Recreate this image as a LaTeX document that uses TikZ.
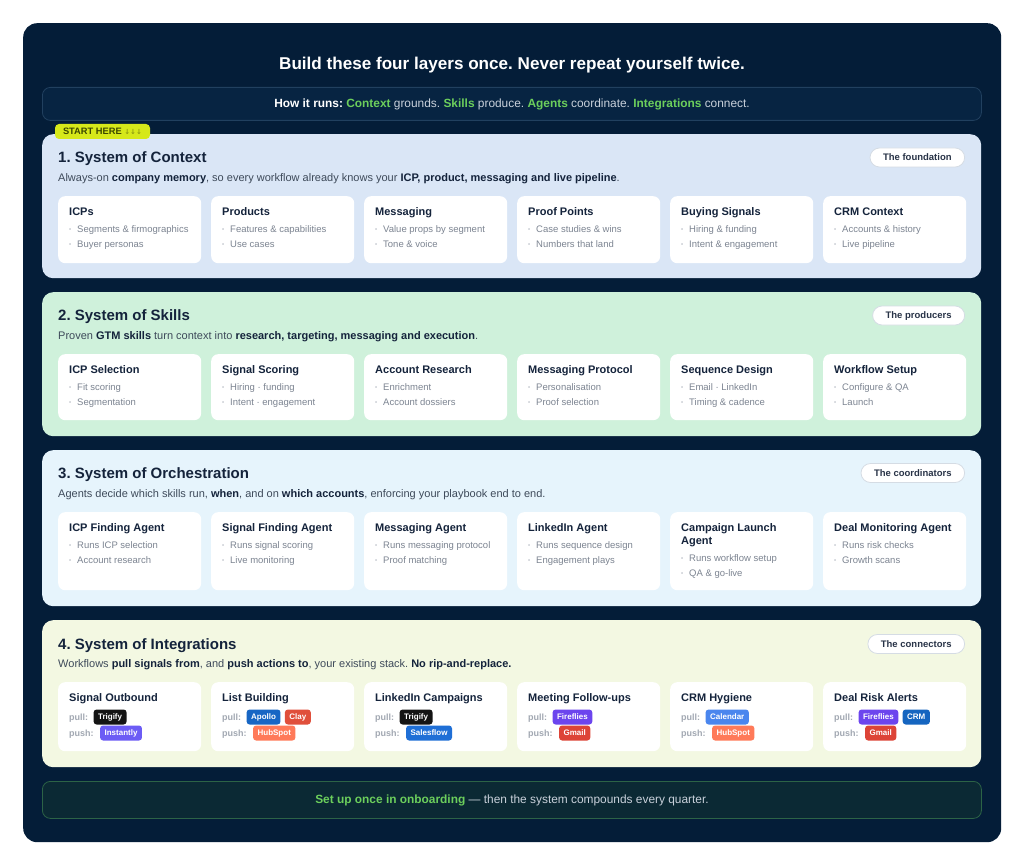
\documentclass[tikz,border=0pt]{standalone}
\usepackage{fontspec}
\setmainfont{Liberation Sans}
\newfontfamily\symfont{DejaVu Sans}
\usetikzlibrary{positioning,calc}
\definecolor{navy}{HTML}{041D38}
\definecolor{navyline}{HTML}{21405F}
\definecolor{navybox}{HTML}{072442}
\definecolor{accent}{HTML}{6CCF5C}
\definecolor{softw}{HTML}{C9D1DB}
\definecolor{sA}{HTML}{DAE6F6}
\definecolor{sB}{HTML}{CFF1DB}
\definecolor{sC}{HTML}{E6F4FC}
\definecolor{sD}{HTML}{F3F8E2}
\definecolor{ink}{HTML}{14233B}
\definecolor{subink}{HTML}{3E4A5A}
\definecolor{bul}{HTML}{7C8491}
\definecolor{dotc}{HTML}{B3B9C2}
\definecolor{pillink}{HTML}{283347}
\definecolor{pillline}{HTML}{D5DCE4}
\definecolor{lime}{HTML}{D6E81A}
\definecolor{limeink}{HTML}{3B4700}
\definecolor{limearr}{HTML}{8E9C10}
\definecolor{footfill}{HTML}{0B2934}
\definecolor{footline}{HTML}{2C6346}
\definecolor{lblc}{HTML}{A2A8B2}
\definecolor{cTrig}{HTML}{141414}
\definecolor{cInst}{HTML}{6C5CF5}
\definecolor{cApollo}{HTML}{1766C4}
\definecolor{cClay}{HTML}{E04F3B}
\definecolor{cHub}{HTML}{FF7A59}
\definecolor{cSales}{HTML}{1F6FD6}
\definecolor{cFire}{HTML}{6C45EE}
\definecolor{cGmail}{HTML}{DD4437}
\definecolor{cCal}{HTML}{4A86EE}
\definecolor{cCrm}{HTML}{1565C0}
\frenchspacing
\newcommand{\bk}[1]{{\bfseries\color{ink}#1}}
\newcommand{\gr}[1]{{\bfseries\color{accent}#1}}
\newcommand{\bdot}{\makebox[8pt][l]{\raisebox{0.9pt}{\color{dotc}\fontsize{6}{6}\selectfont\textbullet}}}
\newcommand{\mycard}[7]{%
  \node[card, minimum height=#4] (#1) at (#2,#3) {};
  \node[ctitle] (#1-t) at ($(#1.north west)+(11,16)$) {#5};
  \node[cbul] (#1-a) at ($(#1.north west)+(11,33)$) {\bdot#6};
  \node[cbul] (#1-b) at ($(#1.north west)+(11,48)$) {\bdot#7};
}
\newcommand{\intcard}[3]{%
  \node[card, minimum height=69pt] (#1) at (#2,682) {};
  \node[ctitle] (#1-t) at ($(#1.north west)+(11,16)$) {#3};
  \node[lbl] (#1-pl) at ($(#1.north west)+(11,35)$) {pull:};
  \node[lbl] (#1-ps) at ($(#1.north west)+(11,51)$) {push:};
}
\begin{document}
\begin{tikzpicture}[x=1pt,y=-1pt,
  box/.style={rectangle, inner sep=0pt, anchor=north west},
  card/.style={box, fill=white, rounded corners=7pt, minimum width=143pt},
  section/.style={box, rounded corners=11pt, minimum width=939pt},
  ctitle/.style={anchor=west, inner sep=0pt, font=\fontsize{11}{13}\selectfont\bfseries, text=ink, text height=7.9pt, text depth=0pt},
  cbul/.style={anchor=west, inner sep=0pt, font=\fontsize{9.5}{11}\selectfont, text=bul, text height=6.8pt, text depth=0pt},
  stitle/.style={anchor=west, inner sep=0pt, font=\fontsize{15}{18}\selectfont\bfseries, text=ink, text height=10.7pt, text depth=0pt},
  ssub/.style={anchor=west, inner sep=0pt, font=\fontsize{11}{13}\selectfont, text=subink, text height=7.9pt, text depth=0pt},
  pill/.style={anchor=east, rectangle, rounded corners=9.5pt, fill=white, draw=pillline, line width=0.8pt, font=\fontsize{9.5}{11}\selectfont\bfseries, text=pillink, inner xsep=13pt, inner ysep=0pt, minimum height=19pt, text height=6.8pt, text depth=0pt},
  badge/.style={rectangle, rounded corners=3pt, font=\fontsize{8}{9}\selectfont\bfseries, text=white, inner xsep=4.5pt, inner ysep=0pt, minimum height=15pt, text height=5.8pt, text depth=1.6pt},
  lbl/.style={anchor=west, inner sep=0pt, font=\fontsize{9}{10}\selectfont\bfseries, text=lblc, text height=6.5pt, text depth=0pt}
]
\useasboundingbox (0,0) rectangle (1024,866);
\fill[white] (0,0) rectangle (1024,866);
\node[box, fill=navy, rounded corners=14pt, minimum width=978pt, minimum height=819pt] (panel) at (23,23) {};
\node[anchor=center, inner sep=0pt, font=\fontsize{17.1}{20}\selectfont\bfseries, text=white, text height=12.2pt, text depth=0pt] (title) at (512,63) {Build these four layers once. Never repeat yourself twice.};
\node[box, fill=navybox, draw=navyline, line width=0.8pt, rounded corners=8pt, minimum width=939pt, minimum height=33pt] (runs) at (42,87) {};
\node[anchor=center, inner sep=0pt, font=\fontsize{11.9}{14}\selectfont, text=softw, text height=8.5pt, text depth=0pt] (runs-t) at (512,103.5) {{\bfseries\color{white}How it runs:} \gr{Context} grounds. \gr{Skills} produce. \gr{Agents} coordinate. \gr{Integrations} connect.};

% Section 1
\node[section, fill=sA, minimum height=144pt] (s1) at (42,134) {};
\node[stitle] (s1-t) at (58,157) {1. System of Context};
\node[ssub] (s1-s) at (58,178) {Always-on \bk{company memory}, so every workflow already knows your \bk{ICP, product, messaging and live pipeline}.};
\node[pill] (s1-p) at (965,157.5) {The foundation};
\mycard{a1}{58}{196}{67pt}{ICPs}{Segments \& firmographics}{Buyer personas}
\mycard{a2}{211}{196}{67pt}{Products}{Features \& capabilities}{Use cases}
\mycard{a3}{364}{196}{67pt}{Messaging}{Value props by segment}{Tone \& voice}
\mycard{a4}{517}{196}{67pt}{Proof Points}{Case studies \& wins}{Numbers that land}
\mycard{a5}{670}{196}{67pt}{Buying Signals}{Hiring \& funding}{Intent \& engagement}
\mycard{a6}{823}{196}{67pt}{CRM Context}{Accounts \& history}{Live pipeline}
\node[box, anchor=center, fill=lime, rounded corners=4pt, minimum width=95pt, minimum height=15pt, font=\fontsize{9.3}{10}\selectfont\bfseries, text=limeink, text height=6.7pt, text depth=0pt] (start) at (102.5,131.5) {START HERE {\symfont\fontsize{7}{7}\selectfont\color{limearr}↓↓↓}};

% Section 2
\node[section, fill=sB, minimum height=144pt] (s2) at (42,292) {};
\node[stitle] (s2-t) at (58,315) {2. System of Skills};
\node[ssub] (s2-s) at (58,336) {Proven \bk{GTM skills} turn context into \bk{research, targeting, messaging and execution}.};
\node[pill] (s2-p) at (965,315.5) {The producers};
\mycard{b1}{58}{354}{66pt}{ICP Selection}{Fit scoring}{Segmentation}
\mycard{b2}{211}{354}{66pt}{Signal Scoring}{Hiring · funding}{Intent · engagement}
\mycard{b3}{364}{354}{66pt}{Account Research}{Enrichment}{Account dossiers}
\mycard{b4}{517}{354}{66pt}{Messaging Protocol}{Personalisation}{Proof selection}
\mycard{b5}{670}{354}{66pt}{Sequence Design}{Email · LinkedIn}{Timing \& cadence}
\mycard{b6}{823}{354}{66pt}{Workflow Setup}{Configure \& QA}{Launch}

% Section 3
\node[section, fill=sC, minimum height=156pt] (s3) at (42,450) {};
\node[stitle] (s3-t) at (58,473) {3. System of Orchestration};
\node[ssub] (s3-s) at (58,494) {Agents decide which skills run, \bk{when}, and on \bk{which accounts}, enforcing your playbook end to end.};
\node[pill] (s3-p) at (965,473) {The coordinators};
\mycard{c1}{58}{512}{78pt}{ICP Finding Agent}{Runs ICP selection}{Account research}
\mycard{c2}{211}{512}{78pt}{Signal Finding Agent}{Runs signal scoring}{Live monitoring}
\mycard{c3}{364}{512}{78pt}{Messaging Agent}{Runs messaging protocol}{Proof matching}
\mycard{c4}{517}{512}{78pt}{LinkedIn Agent}{Runs sequence design}{Engagement plays}
\node[card, minimum height=78pt] (c5) at (670,512) {};
\node[ctitle] (c5-t) at ($(c5.north west)+(11,16)$) {Campaign Launch};
\node[ctitle] (c5-t2) at ($(c5.north west)+(11,28.5)$) {Agent};
\node[cbul] (c5-a) at ($(c5.north west)+(11,46)$) {\bdot Runs workflow setup};
\node[cbul] (c5-b) at ($(c5.north west)+(11,61)$) {\bdot QA \& go-live};
\mycard{c6}{823}{512}{78pt}{Deal Monitoring Agent}{Runs risk checks}{Growth scans}

% Section 4
\node[section, fill=sD, minimum height=147pt] (s4) at (42,620) {};
\node[stitle] (s4-t) at (58,644) {4. System of Integrations};
\node[ssub] (s4-s) at (58,664) {Workflows \bk{pull signals from}, and \bk{push actions to}, your existing stack. \bk{No rip-and-replace.}};
\node[pill] (s4-p) at (965,644) {The connectors};
\intcard{d1}{58}{Signal Outbound}
\node[badge, fill=cTrig, right=5pt of d1-pl] (d1-x1) {Trigify};
\node[badge, fill=cInst, right=6pt of d1-ps] (d1-y1) {Instantly};
\intcard{d2}{211}{List Building}
\node[badge, fill=cApollo, right=5pt of d2-pl] (d2-x1) {Apollo};
\node[badge, fill=cClay, right=4pt of d2-x1] (d2-x2) {Clay};
\node[badge, fill=cHub, right=6pt of d2-ps] (d2-y1) {HubSpot};
\intcard{d3}{364}{LinkedIn Campaigns}
\node[badge, fill=cTrig, right=5pt of d3-pl] (d3-x1) {Trigify};
\node[badge, fill=cSales, right=6pt of d3-ps] (d3-y1) {Salesflow};
\intcard{d4}{517}{Meeting Follow-ups}
\node[badge, fill=cFire, right=5pt of d4-pl] (d4-x1) {Fireflies};
\node[badge, fill=cGmail, right=6pt of d4-ps] (d4-y1) {Gmail};
\intcard{d5}{670}{CRM Hygiene}
\node[badge, fill=cCal, right=5pt of d5-pl] (d5-x1) {Calendar};
\node[badge, fill=cHub, right=6pt of d5-ps] (d5-y1) {HubSpot};
\intcard{d6}{823}{Deal Risk Alerts}
\node[badge, fill=cFire, right=5pt of d6-pl] (d6-x1) {Fireflies};
\node[badge, fill=cCrm, right=4pt of d6-x1] (d6-x2) {CRM};
\node[badge, fill=cGmail, right=6pt of d6-ps] (d6-y1) {Gmail};

% Footer
\node[box, fill=footfill, draw=footline, line width=0.8pt, rounded corners=8pt, minimum width=939pt, minimum height=37pt] (foot) at (42,781) {};
\node[anchor=center, inner sep=0pt, font=\fontsize{11.9}{14}\selectfont, text=softw, text height=8.5pt, text depth=0pt] (foot-t) at (512,799.5) {\gr{Set up once in onboarding} — then the system compounds every quarter.};
\end{tikzpicture}
\end{document}
